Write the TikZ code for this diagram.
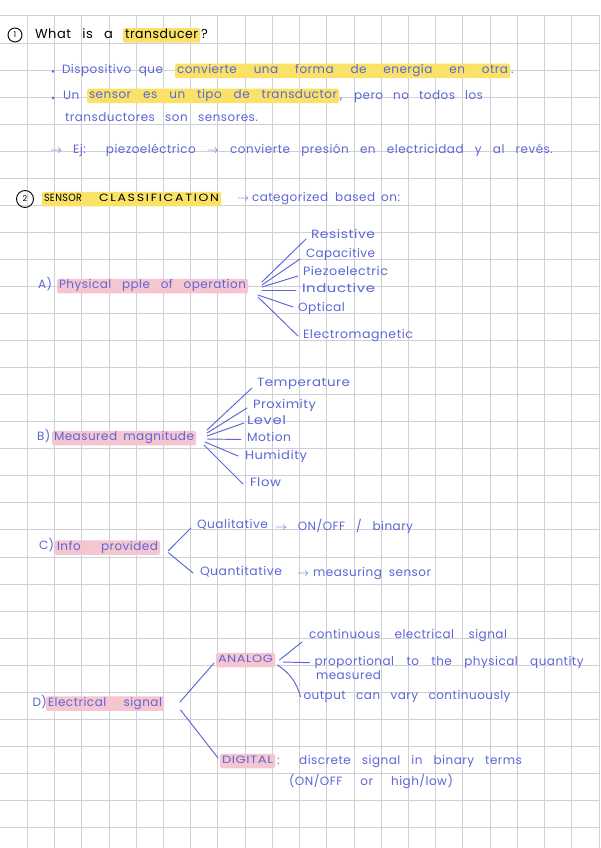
\documentclass[tikz,border=0pt]{standalone}
\usepackage{fontspec}
\setmainfont{Poppins}
\newfontfamily\hand{Poppins}[LetterSpace=4]
\newfontfamily\capsf{Poppins}[LetterSpace=4]
\newfontfamily\capw{Poppins}[LetterSpace=14]
\usepackage{graphicx}
\usetikzlibrary{calc}
\definecolor{ink}{RGB}{92,102,214}
\definecolor{hlyc}{RGB}{250,226,104}
\definecolor{hlpc}{RGB}{246,198,208}
\definecolor{gridc}{RGB}{208,208,212}
\newsavebox\fwbox
\newcommand{\fw}[2]{\sbox\fwbox{#2}\ifdim\wd\fwbox>#1pt\relax\resizebox{#1pt}{\height}{\usebox\fwbox}\else\makebox[#1pt][s]{#2}\fi}
\newcommand{\sw}[2]{\resizebox{#1pt}{\height}{#2}}
\begin{document}
\begin{tikzpicture}[x=1pt,y=-1pt,
  txt/.style={anchor=west, inner sep=0pt, outer sep=0pt, text height=8pt, text depth=2.5pt, text=ink, font=\hand\fontsize{12}{14}\selectfont},
  hdr/.style={txt, text=black, font=\hand\fontsize{13}{15}\selectfont},
  capt/.style={txt, font=\capsf\fontsize{10.5}{12}\selectfont},
  hly/.style={fill=hlyc, rounded corners=1.5pt, inner xsep=2pt, inner ysep=2pt},
  hlp/.style={fill=hlpc, rounded corners=1.5pt, inner xsep=2pt, inner ysep=2pt},
  num/.style={draw=black, circle, line width=0.9pt, inner sep=0pt, font=\fontsize{8}{9}\selectfont},
  bul/.style={circle, fill=ink, inner sep=0pt, minimum size=3pt},
  conn/.style={draw=ink, line width=0.95pt, line cap=round},
]
\useasboundingbox (0,0) rectangle (600,848);
\fill[white] (0,0) rectangle (600,848);
% grid
\foreach \k in {1,...,22} \draw[gridc, line width=0.6pt] ({27.22*\k},15.8) -- ({27.22*\k},848);
\foreach \j in {0,...,30} \draw[gridc, line width=0.6pt] (0,{15.8+27.05*\j}) -- (600,{15.8+27.05*\j});

% ---- section 1
\node[num, minimum size=14pt] (n1) at (15,35) {1};
\node[hdr] (what) at (35,35.5) {\fw{78}{What is a}};
\node[hdr, hly] (trans) at (123,35.5) {\sw{73}{transducer}};
\node[hdr] (qm) at (201,35.5) {?};

\node[bul] (b1) at (53,71.5) {};
\node[txt] (l1a) at (62,71) {\fw{101}{Dispositivo que}};
\node[txt, hly] (l1b) at (175,71) {\fw{331}{convierte una forma de energía en otra}};
\node[txt] (l1c) at (511,71) {.};

\node[bul] (b2) at (53,98) {};
\node[txt] (l2a) at (63,97) {Un};
\node[txt, hly] (l2b) at (87,96) {\fw{248}{sensor es un tipo de transductor}};
\node[txt] (l2c) at (340,97) {\fw{143}{, pero no todos los}};
\node[txt] (l3) at (65,118.5) {\fw{193}{transductores son sensores.}};
\node[txt] (l4) at (50,151) {\fw{503}{$\rightarrow$ Ej: piezoeléctrico $\rightarrow$ convierte presión en electricidad y al revés.}};

% ---- section 2
\node[num, minimum size=17pt] (n2) at (25,199) {2};
\node[capt, text=black, hly] (sc) at (42,199) {\sw{38}{SENSOR}\hspace{17pt}{\capw\sw{120}{CLASSIFICATION}}};
\node[txt] (cat) at (237,199) {$\rightarrow$\hspace{3pt}categorized\hspace{7pt}based\hspace{6pt}on:};

% ---- A
\node[txt] (Alab) at (38,286) {A)};
\node[txt, hlp] (Aroot) at (57,286) {\fw{187}{Physical pple of operation}};
\coordinate (Ahub) at (260,289);
\node[txt] (a1) at (311,236) {\sw{64}{Resistive}};
\node[txt] (a2) at (306,255) {\sw{69}{Capacitive}};
\node[txt] (a3) at (303,273) {\sw{85}{Piezoelectric}};
\node[txt] (a4) at (302,290) {\sw{73}{Inductive}};
\node[txt] (a5) at (298,309) {\sw{47}{Optical}};
\node[txt] (a6) at (303,336) {\sw{110}{Electromagnetic}};
\foreach \n/\sx/\sy/\ex/\ey in {a1/2/-7/-5/3, a2/2/-4/-6/4, a3/2/-2/-5/3, a4/2/1/-6/0, a5/-2/6/-5/-2, a6/-2/8/-5/0}
  \draw[conn] ($(Ahub)+(\sx,\sy)$) -- ($(\n.west)+(\ex,\ey)$);

% ---- B
\node[txt] (Blab) at (37,438) {B)};
\node[txt, hlp] (Broot) at (52,438) {\fw{140}{Measured magnitude}};
\coordinate (Bhub) at (206,439);
\node[txt] (m1) at (257,384) {\sw{93}{Temperature}};
\node[txt] (m2) at (253,406) {\sw{63}{Proximity}};
\node[txt] (m3) at (247,422) {\sw{39}{Level}};
\node[txt] (m4) at (247,438.5) {\sw{44}{Motion}};
\node[txt] (m5) at (245,457) {\sw{62}{Humidity}};
\node[txt] (m6) at (250,484) {\sw{31}{Flow}};
\foreach \n/\sx/\sy/\ex/\ey in {m1/1/-9/-5/4, m2/1/-6/-6/2, m3/1/-3/-3/1, m4/1/0/-6/1, m5/-1/3/-7/-1, m6/-2/6/-7/0}
  \draw[conn] ($(Bhub)+(\sx,\sy)$) -- ($(\n.west)+(\ex,\ey)$);

% ---- C
\node[txt] (Clab) at (39,547) {C)};
\node[txt, hlp] (Croot) at (55,547.5) {\fw{101}{Info provided}};
\coordinate (Chub) at (168.4,551.7);
\node[txt] (q1) at (197,526) {\sw{71}{Qualitative}};
\node[txt] (q1b) at (275,528) {\fw{138}{$\rightarrow$ ON/OFF / binary}};
\node[txt] (q2) at (200,573) {\sw{82}{Quantitative}};
\node[txt] (q2b) at (297,574) {$\rightarrow$\hspace{4pt}measuring\hspace{7pt}sensor};
\draw[conn] ($(Chub)+(0,-1)$) -- ($(q1.west)+(-6,2)$);
\draw[conn] ($(Chub)+(0,1)$) -- ($(q2.west)+(-7,0)$);

% ---- D
\node[txt] (Dlab) at (32.5,704) {D)};
\node[txt, hlp] (Droot) at (46,703.5) {\fw{114}{Electrical signal}};
\coordinate (Dhub) at (180,706);
\node[capt, hlp] (analog) at (216,660) {\sw{55}{ANALOG}};
\node[capt, hlp] (digital) at (220,761) {\sw{51}{DIGITAL}};
\node[txt] (dig1) at (277,762) {\fw{245}{: discrete signal in binary terms}};
\node[txt] (dig2) at (289,783) {\fw{164}{(ON/OFF or high/low)}};
\draw[conn] ($(Dhub)+(0,-4)$) -- ($(analog.west)+(-2,3)$);
\draw[conn] ($(Dhub)+(0.6,4)$) -- ($(digital.west)+(-2,-3)$);
\coordinate (Ahub2) at (280,662);
\node[txt] (an1) at (309,636) {\fw{198}{continuous electrical signal}};
\node[txt] (an2) at (314.6,662.7) {\fw{269}{proportional to the physical quantity}};
\node[txt] (an2b) at (316,676.7) {\sw{65}{measured}};
\node[txt] (an3) at (303.5,696.7) {\fw{207}{output can vary continuously}};
\draw[conn] ($(Ahub2)+(-0.6,-2)$) -- ($(an1.west)+(-7,6)$);
\draw[conn] ($(Ahub2)+(3,0)$) -- ($(an2.west)+(-5,0)$);
\draw[conn] ($(Ahub2)+(-2.5,3)$) to[bend left=20] ($(an3.west)+(-3,0)$);
\end{tikzpicture}
\end{document}
